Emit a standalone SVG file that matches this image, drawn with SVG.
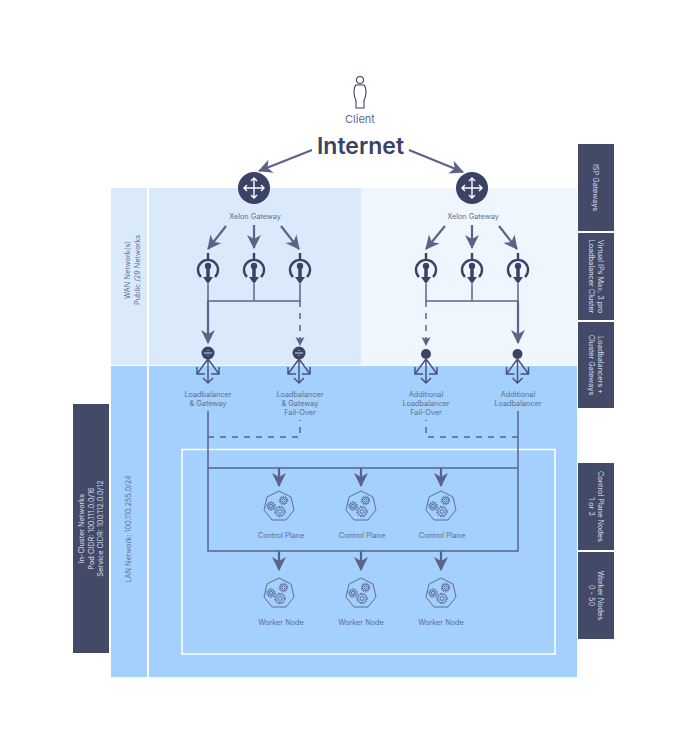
<svg xmlns="http://www.w3.org/2000/svg" xmlns:xlink="http://www.w3.org/1999/xlink" width="688" height="754" viewBox="0 0 688 754">
<style>
text{font-family:"Inter","Liberation Sans",sans-serif;text-anchor:middle}
.lbl{font-size:7.300px;fill:#5d6e92}
.side{font-size:7.300px;fill:#d5dbe8}
.zone{font-size:7.300px;fill:#5f7396}
.dark{fill:#434a68}
.c{fill:none;stroke:#5a6489;stroke-width:1.500}
.t{fill:none;stroke:#5a6489;stroke-width:2.200}
.d{fill:none;stroke:#5a6489;stroke-width:1.500;stroke-dasharray:6 6}
.ico{fill:none;stroke:#5c6d96;stroke-width:1}
</style>
<defs>
<marker id="big" markerUnits="userSpaceOnUse" markerWidth="16" markerHeight="16" refX="13" refY="7" orient="auto"><path d="M0 0L14 7L0 14L4 7Z" fill="#5a6489"/></marker>
<marker id="small" markerUnits="userSpaceOnUse" markerWidth="10" markerHeight="10" refX="8" refY="4.500" orient="auto"><path d="M0 0L9 4.500L0 9L2 4.500Z" fill="#5a6489"/></marker>
<g id="gw"><circle r="16" fill="#3a4265"/><path d="M-10 0H10M0-10V10M-7-3L-10 0L-7 3M7-3L10 0L7 3M-3-7L0-10L3-7M-3 7L0 10L3 7" fill="none" stroke="#fff" stroke-width="1.400"/></g>
<g id="vip"><path d="M0-17V-10M-7 7A10 10 0 1 1 7 7" fill="none" stroke="#3a4265" stroke-width="2.400"/><circle cy="-4" r="3.200" fill="#3a4265"/><path d="M0-4V8" stroke="#3a4265" stroke-width="3.500"/><path d="M-5 7H5L0 14Z" fill="#3a4265"/></g>
<g id="fan"><path d="M0 0L-11 15M0 0L11 15M0 0V24M-11 8V15H-3M11 8V15H3M-5 19L0 24L5 19" fill="none" stroke="#4a5479" stroke-width="1.500"/></g>
<g id="gear-s"><circle r="1.600" class="ico"/><circle r="3.300" class="ico"/><circle r="4.300" class="ico" stroke-dasharray="1.500 1.200"/></g>
<g id="gear-l"><circle r="2" class="ico"/><circle r="4.200" class="ico"/><circle r="5.300" class="ico" stroke-dasharray="1.600 1.200"/></g>
<g id="hex"><path d="M0-15L12-9L15 4L7 14H-7L-15 4L-12-9Z" class="ico" stroke-width="1.200"/><use xlink:href="#gear-s" x="-8" y="0"/><use xlink:href="#gear-s" x="4.500" y="-5.500"/><use xlink:href="#gear-l" x="1" y="5.500"/></g>
</defs>

<g id="zones">
<rect x="111" y="188" width="36" height="177" fill="#dbeafa"/>
<rect x="149" y="188" width="212" height="177" fill="#dbeafa"/>
<rect x="361" y="188" width="216" height="177" fill="#f0f6fe"/>
<rect x="111" y="366" width="36" height="311" fill="#a3d0fd"/>
<rect x="149" y="366" width="428" height="311" fill="#a3d0fd"/>
<rect x="182" y="449.500" width="373" height="204.500" fill="none" stroke="#fff" stroke-width="1.500"/>
<text class="zone" transform="translate(130,270) rotate(-90)"><tspan x="0" y="0">WAN Network(s)</tspan><tspan x="0" y="9.500">Public /29 Networks</tspan></text>
<text class="zone" transform="translate(131,529) rotate(-90)">LAN Network: 100.110.255.0/24</text>
</g>

<g id="connectors">
<path class="t" d="M312 150L259 171" marker-end="url(#big)"/>
<path class="t" d="M409 150L463 172" marker-end="url(#big)"/>
<path class="t" d="M226 226L208 249" marker-end="url(#big)"/>
<path class="t" d="M254 225V248" marker-end="url(#big)"/>
<path class="t" d="M281 226L299 249" marker-end="url(#big)"/>
<path class="t" d="M445 226L426 249" marker-end="url(#big)"/>
<path class="t" d="M472 225V248" marker-end="url(#big)"/>
<path class="t" d="M499 226L517 249" marker-end="url(#big)"/>
<path class="c" d="M208 284V301H300V284M254 284V301M426 284V301H518V284M472 284V301"/>
<path class="t" d="M208 301V343" marker-end="url(#big)"/>
<path class="t" d="M518 301V343" marker-end="url(#big)"/>
<path class="d" d="M300 301V345" marker-end="url(#small)"/>
<path class="d" d="M426 301V345" marker-end="url(#small)"/>
<path class="c" d="M208 411V551H518V411M208 468H518"/>
<path class="d" d="M208 437H300V420M518 437H426V420"/>
<path class="t" d="M279 468V486" marker-end="url(#big)"/>
<path class="t" d="M361 468V486" marker-end="url(#big)"/>
<path class="t" d="M441 468V486" marker-end="url(#big)"/>
<path class="t" d="M279 551V570" marker-end="url(#big)"/>
<path class="t" d="M361 551V570" marker-end="url(#big)"/>
<path class="t" d="M441 551V570" marker-end="url(#big)"/>
</g>

<g id="client"><circle cx="360" cy="80" r="3.500" fill="none" stroke="#3a4265" stroke-width="1.100"/><path d="M356 85Q354 87 354 92Q354 96 356 101V108H364V101Q366 96 366 92Q366 87 364 85Z" fill="none" stroke="#3a4265" stroke-width="1.100"/><text class="lbl" x="360" y="123" style="font-size:11px">Client</text></g>
<g id="internet"><text x="360.500" y="154" style="font-size:23px;font-weight:600;fill:#3a4265">Internet</text></g>

<g id="gateway-1"><use xlink:href="#gw" x="254" y="188"/><text class="lbl" x="255" y="219">Xelon Gateway</text></g>
<g id="gateway-2"><use xlink:href="#gw" x="472" y="188"/><text class="lbl" x="473" y="219">Xelon Gateway</text></g>

<g id="vip-1"><use xlink:href="#vip" x="208" y="270"/></g>
<g id="vip-2"><use xlink:href="#vip" x="254" y="270"/></g>
<g id="vip-3"><use xlink:href="#vip" x="300" y="270"/></g>
<g id="vip-4"><use xlink:href="#vip" x="426" y="270"/></g>
<g id="vip-5"><use xlink:href="#vip" x="472" y="270"/></g>
<g id="vip-6"><use xlink:href="#vip" x="518" y="270"/></g>

<g id="lb-1"><use xlink:href="#fan" x="208" y="359"/><circle cx="208" cy="353" r="6.500" fill="#3a4265"/><path d="M204 353H212M208 350V351M208 355V356" stroke="#fff" stroke-width=".8"/><text class="lbl" x="208" y="397">Loadbalancer</text><text class="lbl" x="208" y="406">&amp; Gateway</text></g>
<g id="lb-2"><use xlink:href="#fan" x="299" y="359"/><circle cx="299" cy="353" r="6.500" fill="#3a4265"/><path d="M295 353H303M299 350V351M299 355V356" stroke="#fff" stroke-width=".8"/><text class="lbl" x="300" y="397">Loadbalancer</text><text class="lbl" x="300" y="406">&amp; Gateway</text><text class="lbl" x="300" y="415">Fail-Over</text></g>
<g id="lb-3"><use xlink:href="#fan" x="426" y="359"/><circle cx="426" cy="354" r="5" fill="#3a4265"/><text class="lbl" x="426" y="397">Additional</text><text class="lbl" x="426" y="406">Loadbalancer</text><text class="lbl" x="426" y="415">Fail-Over</text></g>
<g id="lb-4"><use xlink:href="#fan" x="517.500" y="359"/><circle cx="517.500" cy="354" r="5" fill="#3a4265"/><text class="lbl" x="518" y="397">Additional</text><text class="lbl" x="518" y="406">Loadbalancer</text></g>

<g id="cp-1"><use xlink:href="#hex" x="279" y="506"/><text class="lbl" x="281" y="538">Control Plane</text></g>
<g id="cp-2"><use xlink:href="#hex" x="361" y="506"/><text class="lbl" x="362" y="538">Control Plane</text></g>
<g id="cp-3"><use xlink:href="#hex" x="441" y="506"/><text class="lbl" x="442" y="538">Control Plane</text></g>
<g id="wn-1"><use xlink:href="#hex" x="279" y="593"/><text class="lbl" x="281" y="625">Worker Node</text></g>
<g id="wn-2"><use xlink:href="#hex" x="361" y="593"/><text class="lbl" x="361" y="625">Worker Node</text></g>
<g id="wn-3"><use xlink:href="#hex" x="441" y="593"/><text class="lbl" x="441" y="625">Worker Node</text></g>

<g id="legend-isp"><rect class="dark" x="578" y="144" width="36" height="87"/><text class="side" transform="translate(596,187.500) rotate(90)" y="3">ISP Gateways</text></g>
<g id="legend-vip"><rect class="dark" x="578" y="233" width="36" height="87"/><text class="side" transform="translate(596,276.500) rotate(90)"><tspan x="0" y="-2">Virtual IPs Max. 3 pro</tspan><tspan x="0" y="7.500">Loadbalancer Cluster</tspan></text></g>
<g id="legend-lb"><rect class="dark" x="578" y="322" width="36" height="86"/><text class="side" transform="translate(596,365) rotate(90)"><tspan x="0" y="-2">Loadbalancers +</tspan><tspan x="0" y="7.500">Cluster Gateways</tspan></text></g>
<g id="legend-cp"><rect class="dark" x="578" y="463" width="36" height="87"/><text class="side" transform="translate(596,506.500) rotate(90)"><tspan x="0" y="-2">Control Plane Nodes</tspan><tspan x="0" y="7.500">1 or 3</tspan></text></g>
<g id="legend-wn"><rect class="dark" x="578" y="552" width="36" height="87"/><text class="side" transform="translate(596,595.500) rotate(90)"><tspan x="0" y="-2">Worker Nodes</tspan><tspan x="0" y="7.500">0 - 50</tspan></text></g>
<g id="legend-incluster"><rect class="dark" x="73" y="404" width="36" height="249"/><text class="side" transform="translate(91,528.500) rotate(-90)"><tspan x="0" y="-7">In-Cluster Networks</tspan><tspan x="0" y="2.500">Pod CIDR: 100.111.0.0/16</tspan><tspan x="0" y="12">Service CIDR: 100.112.0.0/12</tspan></text></g>
</svg>
